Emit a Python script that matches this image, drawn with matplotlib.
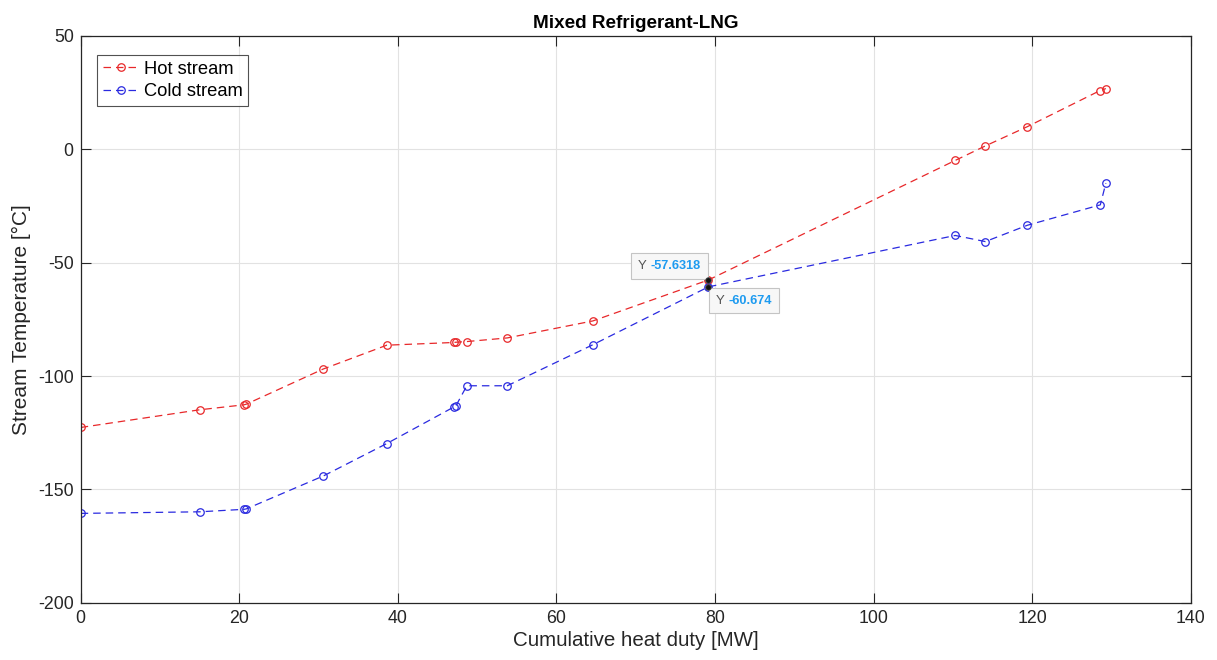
import matplotlib
matplotlib.use("Agg")
import matplotlib.pyplot as plt
from matplotlib.offsetbox import TextArea, HPacker, AnnotationBbox

plt.rcParams['font.family'] = ['Liberation Sans', 'DejaVu Sans']
plt.rcParams['axes.unicode_minus'] = False

# Composite curves: cumulative heat duty [MW] vs stream temperature [°C]
hot_duty = [0, 15.0, 20.6, 20.9, 30.6, 38.6, 47.1, 47.3, 48.7, 53.8, 64.6,
            79.17, 110.3, 114.1, 119.4, 128.5, 129.3]
hot_temp = [-122.7, -114.9, -112.7, -112.4, -96.9, -86.4, -85.2, -85.1, -84.8,
            -83.2, -75.7, -57.6318, -4.9, 1.5, 10.0, 25.8, 26.8]

cold_duty = [0, 15.0, 20.6, 20.9, 30.6, 38.6, 47.1, 47.3, 48.7, 53.8, 64.6,
             79.17, 110.3, 114.1, 119.4, 128.6, 129.3]
cold_temp = [-160.6, -159.9, -158.8, -158.6, -144.1, -129.8, -113.6, -113.3,
             -104.3, -104.3, -86.2, -60.674, -38.0, -40.7, -33.5, -24.5, -14.9]

# Pinch-point data tips (index into the series above)
tip_index = 11

x_ticks = [0, 20, 40, 60, 80, 100, 120, 140]
y_ticks = [-200, -150, -100, -50, 0, 50]

fig = plt.figure(figsize=(12.17, 6.6), dpi=100)
ax = fig.add_axes([0.0663, 0.0868, 0.9121, 0.8587])

dark = '#262626'
ax.plot(hot_duty, hot_temp, linestyle='--', color='#e8282a', marker='o',
        markersize=5.4, markerfacecolor='none', markeredgewidth=0.9,
        linewidth=0.9, dashes=(6, 4), label='Hot stream')
ax.plot(cold_duty, cold_temp, linestyle='--', color='#2a2ae0', marker='o',
        markersize=5.4, markerfacecolor='none', markeredgewidth=0.9,
        linewidth=0.9, dashes=(6, 4), label='Cold stream')

ax.set_xlim(x_ticks[0], x_ticks[-1])
ax.set_ylim(y_ticks[0], y_ticks[-1])
ax.set_xticks(x_ticks)
ax.set_yticks(y_ticks)
ax.grid(True, color='#e2e2e2', linewidth=0.8)
ax.set_axisbelow(True)

for s in ax.spines.values():
    s.set_color(dark)
    s.set_linewidth(0.9)
ax.tick_params(direction='in', length=7, width=0.8, top=True, right=True,
               colors=dark, labelsize=12.8, pad=5)

ax.set_xlabel('Cumulative heat duty [MW]', fontsize=14.8, color=dark, labelpad=3)
ax.set_ylabel('Stream Temperature [°C]', fontsize=15, color=dark, labelpad=5)
ax.set_title('Mixed Refrigerant-LNG', fontsize=13.6, fontweight='bold',
             color='black', pad=6)

leg = ax.legend(loc='upper left', bbox_to_anchor=(0.0148, 0.966),
                fontsize=13.2, frameon=True, fancybox=False, borderpad=0.3,
                handlelength=2.0, handletextpad=0.25, labelspacing=0.3,
                borderaxespad=0.0)
leg.get_frame().set_edgecolor(dark)
leg.get_frame().set_linewidth(0.8)


def data_tip(x, y, align, offset):
    ax.plot([x], [y], 'o', color='#111111', markersize=4, markeredgecolor='#444444',
            markeredgewidth=0.6, zorder=8)
    label = TextArea('Y', textprops=dict(color='#555555', fontsize=9.5))
    value = TextArea(f'{y:g}', textprops=dict(color='#1e9bf0', fontsize=9.2,
                                               fontweight='bold'))
    texts = HPacker(children=[label, value], align='baseline', pad=0, sep=3)
    ab = AnnotationBbox(texts, (x, y), xybox=offset, xycoords='data',
                        boxcoords='offset points', box_alignment=align,
                        frameon=True, pad=0.5,
                        bboxprops=dict(facecolor='#f7f7f7', edgecolor='#c4c4c4',
                                       linewidth=0.8))
    ab.set_zorder(7)
    ax.add_artist(ab)


data_tip(hot_duty[tip_index], hot_temp[tip_index], (1, 0), (-5.5, 5.5))
data_tip(cold_duty[tip_index], cold_temp[tip_index], (0, 1), (5.5, -5.5))

fig.savefig('out.png', dpi=100)
